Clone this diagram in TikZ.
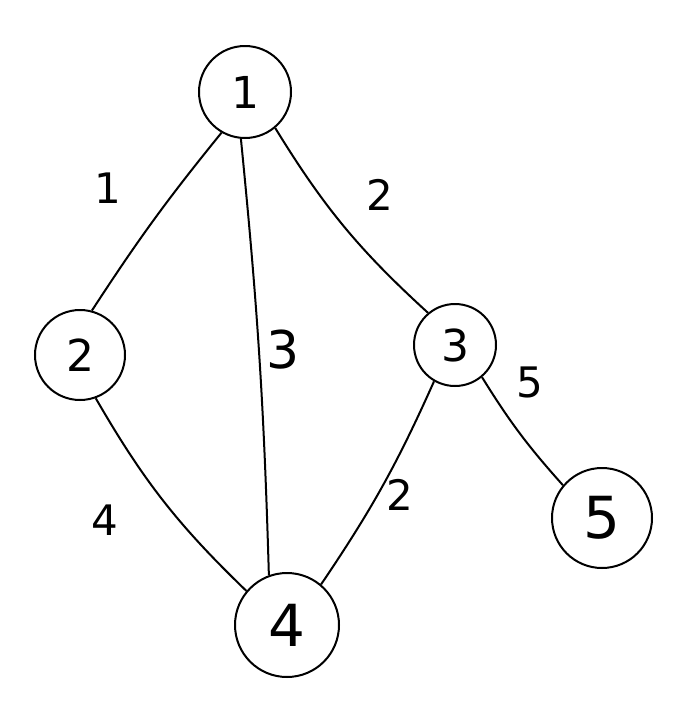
\documentclass[tikz,border=0pt]{standalone}
\usepackage{fontspec}
\setmainfont{DejaVu Sans}
\begin{document}
\begin{tikzpicture}[x=1pt,y=-1pt,
  vtx/.style={draw,circle,line width=2pt,inner sep=0pt,font=\fontsize{44}{44}\selectfont},
  big/.style={font=\fontsize{58}{58}\selectfont},
  edge/.style={line width=2pt},
  wlab/.style={font=\fontsize{42}{42}\selectfont}]
\useasboundingbox (0,0) rectangle (692,723);
\node[vtx,minimum size=92pt] (n1) at (245,92) {1};
\node[vtx,minimum size=90pt] (n2) at (80,355) {2};
\node[vtx,minimum size=82pt] (n3) at (455,345) {3};
\node[vtx,big,minimum size=104pt] (n4) at (287,625) {4};
\node[vtx,big,minimum size=100pt] (n5) at (602,518) {5};
\draw[edge] (n1.240) to[bend right=3] (n2.75);
\draw[edge] (n1.265) to[bend left=2] (n4.110);
\draw[edge] (n1.310) to[bend right=8] (n3.130);
\draw[edge] (n2.290) to[bend right=8] (n4.140);
\draw[edge] (n3.240) to[bend left=5] (n4.50);
\draw[edge] (n3.310) to[bend right=5] (n5.140);
\node[wlab] (w12) at (108,188) {1};
\node[wlab,font=\fontsize{52}{52}\selectfont] (w14) at (283,350) {3};
\node[wlab] (w13) at (380,195) {2};
\node[wlab] (w24) at (105,520) {4};
\node[wlab] (w34) at (400,495) {2};
\node[wlab] (w35) at (530,382) {5};
\end{tikzpicture}
\end{document}
